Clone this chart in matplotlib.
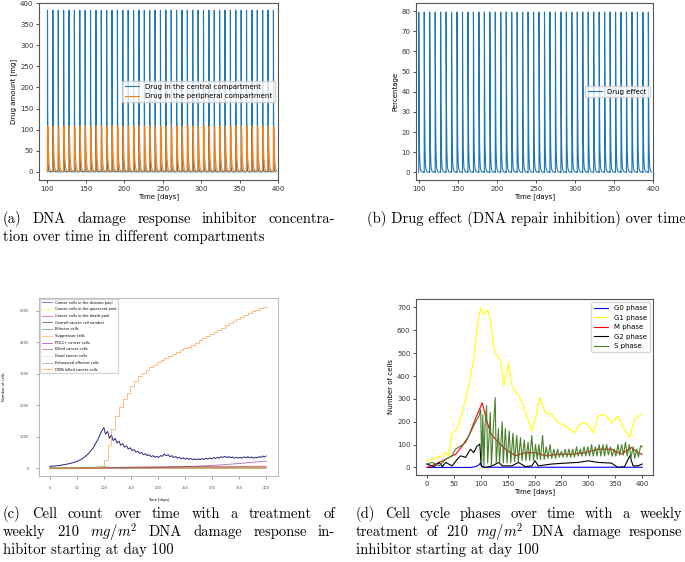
import matplotlib
matplotlib.use("Agg")
import matplotlib.pyplot as plt
import numpy as np

W, H = 685, 562

# ---------------- data ----------------
# weekly dosing days (panels a, b)
dose_days = [100, 107, 114, 121, 128, 135, 142, 149, 156, 163, 170, 177, 184, 191, 198,
             205, 212, 219, 226, 233, 240, 247, 254, 261, 268, 275, 282, 289, 296, 303,
             310, 317, 324, 331, 338, 345, 352, 359, 366, 373, 380, 387, 394]

# one-week profiles after a dose (days after dose, value)
central_t = [0, 0.05, 0.3, 0.6, 1.0, 1.6, 3.0, 7.0]
central_v = [0.5, 383, 150, 40, 10, 2, 0.5, 0.2]
peripheral_t = [0, 0.25, 0.5, 0.8, 1.2, 1.7, 2.5, 3.5, 5.0, 7.0]
peripheral_v = [1, 75, 108, 90, 55, 30, 12, 5, 2, 1]
effect_t = [0, 0.05, 0.3, 0.6, 1.0, 1.5, 2.0, 3.0, 4.0, 7.0]
effect_v = [0, 79.5, 55, 30, 12, 5, 2.0, 0.6, 0.2, 0.1]

# panel c
overall_days = [0, 10, 20, 30, 40, 50, 60, 70, 80, 90, 95, 100,
                103, 107, 110, 114, 117, 121, 124, 128, 131, 135, 138, 142, 145, 149, 152, 156,
                159, 163, 166, 170, 173, 177, 180, 184, 187, 191, 194, 198, 201, 205, 208, 212,
                215, 219, 222, 226, 229, 233, 236, 240, 243, 247, 250, 254, 257, 261, 264, 268,
                271, 275, 278, 282, 285, 289, 292, 296, 299, 303, 306, 310, 313, 317, 320, 324,
                327, 331, 334, 338, 341, 345, 348, 352, 355, 359, 362, 366, 369, 373, 376, 380,
                383, 387, 390, 394, 397, 400]
overall_cells = [60, 75, 95, 125, 165, 215, 300, 440, 640, 950, 1150, 1290,
                 1080, 1170, 950, 1060, 880, 950, 800, 860, 730, 780, 670, 710, 610, 650, 560, 590,
                 510, 540, 470, 500, 430, 460, 400, 430, 370, 400, 350, 380, 340, 400, 380, 450,
                 400, 430, 370, 400, 340, 370, 320, 350, 300, 330, 290, 320, 280, 310, 270, 300,
                 270, 300, 270, 310, 280, 320, 290, 330, 300, 340, 310, 350, 320, 370, 340, 380,
                 340, 370, 330, 360, 320, 350, 320, 350, 320, 360, 330, 370, 330, 360, 320, 350,
                 330, 370, 340, 390, 360, 390]
division_pool = overall_cells
ddri_days = [0, 100, 107, 114, 121, 128, 135, 142, 149, 156, 163, 170, 177, 184, 191, 198,
             205, 212, 219, 226, 233, 240, 247, 254, 261, 268, 275, 282, 289, 296, 303,
             310, 317, 324, 331, 338, 345, 352, 359, 366, 373, 380, 387, 394, 400]
ddri_killed = [0, 250, 750, 1250, 1650, 1950, 2200, 2400, 2600, 2780, 2920, 3030, 3120, 3200,
               3280, 3360, 3430, 3500, 3560, 3620, 3680, 3740, 3800, 3860, 3920, 3980, 4060,
               4130, 4200, 4260, 4330, 4400, 4460, 4530, 4600, 4670, 4740, 4800, 4860, 4920,
               4980, 5030, 5080, 5130, 5150]
coarse_days = [0, 50, 90, 100, 110, 150, 200, 250, 300, 350, 400]
quiescent_pool = [5, 8, 15, 20, 10, 8, 8, 8, 8, 8, 8]
death_pool = [2, 4, 10, 15, 20, 25, 30, 35, 35, 40, 40]
effector_cells = [10, 15, 40, 50, 30, 15, 10, 10, 10, 10, 10]
suppressor_cells = [5, 5, 5, 5, 5, 5, 5, 5, 5, 5, 5]
pdl1_cells = [0, 0, 0, 0, 2, 8, 20, 50, 90, 150, 230]
killed_cells = [0, 2, 5, 10, 20, 40, 50, 55, 60, 60, 65]
dead_cells = [0, 1, 2, 3, 4, 5, 6, 6, 6, 6, 6]
exhausted_cells = [0, 0, 1, 2, 3, 5, 5, 5, 5, 5, 5]

# panel d
g0_days = [0, 80, 90, 96, 100, 102, 104, 400]
g0_phase = [0, 0, 3, 10, 20, 5, 1, 1]
g1_days = [0, 10.5, 29, 35, 41, 47, 53.5, 60, 69, 78, 87, 93.5, 100, 106, 112, 118, 124, 130,
           137, 143, 152, 158, 167, 177, 186, 195, 204, 210, 220, 232, 244, 257, 275, 284, 294,
           303, 309, 318, 330, 343, 355, 367, 377, 386, 398]
g1_phase = [29, 36, 51, 65, 51, 152, 160, 189, 269, 356, 472, 617, 697, 668, 690, 654, 530, 487,
            472, 356, 458, 356, 327, 283, 225, 160, 240, 305, 240, 232, 196, 182, 152, 189, 196,
            174, 152, 225, 232, 196, 225, 167, 131, 211, 232]
m_days = [0, 17, 35, 53.5, 66, 78, 90, 103, 109, 118, 130, 146, 164, 183, 201, 220, 244, 269,
          294, 318, 343, 361, 380, 392, 400]
m_phase = [0, 15, 36, 58, 94, 138, 211, 283, 225, 152, 116, 80, 51, 65, 65, 51, 58, 58,
           65, 80, 80, 58, 87, 65, 58]
g2_days = [0, 13.5, 23, 29, 35, 47, 56.6, 63, 72, 81, 87, 93.5, 98.5, 101, 109, 121, 134, 140,
           158, 170, 183, 195, 201, 207, 232, 257, 281, 300, 318, 343, 355, 367, 377, 383, 392, 400]
g2_phase = [15, 4, 22, 4, 22, 7, 36, 51, 44, 80, 65, 94, 102, 7, 0, 7, 22, 7,
            7, 22, 4, 7, 29, 7, 15, 19, 22, 29, 22, 19, 0, 3, 51, 7, 7, 15]
s_days = [0, 10, 23, 35, 47, 53, 63, 72, 81, 90, 97, 100,
          102, 104, 106, 108, 111, 113, 116, 118, 120, 123, 127, 129, 133, 135, 138, 140, 142,
          146, 149, 153, 156, 160, 163, 167, 170, 174, 177, 181, 184, 188, 191, 195, 198, 202,
          205, 208, 211, 215, 218, 222, 225, 229, 232, 236, 239, 243, 246, 250, 253, 257, 260,
          264, 267, 271, 274, 278, 281, 285, 288, 292, 295, 299, 302, 306, 309, 313, 316, 320,
          323, 327, 330, 334, 337, 341, 344, 348, 351, 355, 358, 362, 365, 369, 372, 376, 379,
          383, 386, 390, 393, 397, 400]
s_phase = [15, 22, 7, 36, 51, 80, 94, 109, 152, 196, 225, 254,
           20, 230, 10, 180, 270, 20, 150, 240, 10, 150, 305, 20, 170, 20, 120, 200, 20,
           170, 20, 160, 20, 150, 25, 140, 25, 130, 30, 120, 30, 110, 30, 140, 30, 100,
           35, 100, 35, 140, 35, 90, 40, 100, 40, 80, 40, 80, 45, 70, 45, 80, 45,
           80, 45, 80, 45, 90, 50, 80, 50, 90, 50, 90, 50, 100, 50, 90, 50, 100,
           50, 100, 50, 100, 55, 90, 50, 80, 50, 100, 55, 100, 55, 110, 50, 100, 40,
           90, 40, 80, 45, 95, 90]


def repeat_profile(prof_t, prof_v, end=400):
    ts, vs = [], []
    for i, d in enumerate(dose_days):
        nxt = dose_days[i + 1] if i + 1 < len(dose_days) else end
        for t, v in zip(prof_t, prof_v):
            if d + t <= nxt:
                ts.append(d + t)
                vs.append(v)
    return ts, vs


def px_axes(left, top, right, bottom):
    return fig.add_axes([left / W, 1 - bottom / H, (right - left) / W, (bottom - top) / H])


def style_spines(ax, color):
    for s in ax.spines.values():
        s.set_color(color)
        s.set_linewidth(0.8)


fig = plt.figure(figsize=(W / 100, H / 100), dpi=100)

# ---------------- (a) ----------------
ax = px_axes(39, 3, 278, 180)
t, v = repeat_profile(central_t, central_v)
ax.plot(t, v, color='#1f77b4', lw=0.8, label='Drug in the central compartment')
t, v = repeat_profile(peripheral_t, peripheral_v)
ax.plot(t, v, color='#ff7f0e', lw=0.8, label='Drug in the peripheral compartment')
ax.set_xlim(89, 400)
ax.set_ylim(-19, 400)
ax.set_xticks([100, 150, 200, 250, 300, 350, 400])
ax.tick_params(labelsize=5, length=2.5, width=0.6, pad=1.5, colors='#333333')
ax.set_xlabel('Time [days]', fontsize=5, labelpad=1.5)
ax.set_ylabel('Drug amount [mg]', fontsize=5, labelpad=2)
ax.legend(loc='center right', fontsize=5, framealpha=0.8, borderpad=0.4, handlelength=2)
style_spines(ax, '#555555')

# ---------------- (b) ----------------
ax = px_axes(416, 3, 653, 180)
t, v = repeat_profile(effect_t, effect_v)
ax.plot(t, v, color='#1f77b4', lw=0.8, label='Drug effect')
ax.set_xlim(96.5, 400)
ax.set_ylim(-3.8, 84)
ax.set_xticks([100, 150, 200, 250, 300, 350, 400])
ax.set_yticks(range(0, 81, 10))
ax.tick_params(labelsize=5, length=2.5, width=0.6, pad=1.5, colors='#333333')
ax.set_xlabel('Time [days]', fontsize=5, labelpad=1.5)
ax.set_ylabel('Percentage', fontsize=5, labelpad=2)
ax.legend(loc='center right', fontsize=5, framealpha=0.8, borderpad=0.4, handlelength=2)
style_spines(ax, '#555555')

# ---------------- (c) ----------------
ax = px_axes(39, 298, 278, 476)
a = 0.6
ax.plot(overall_days, division_pool, color='blue', alpha=a, lw=0.6, label='Cancer cells in the division pool')
ax.plot(coarse_days, quiescent_pool, color='yellow', alpha=a, lw=0.6, label='Cancer cells in the quiescent pool')
ax.plot(coarse_days, death_pool, color='red', alpha=a, lw=0.6, label='Cancer cells in the death pool')
ax.plot(overall_days, overall_cells, color='black', alpha=a, lw=0.6, label='Overall cancer cell number')
ax.plot(coarse_days, effector_cells, color='green', alpha=a, lw=0.6, label='Effector cells')
ax.plot(coarse_days, suppressor_cells, color='orange', alpha=a, lw=0.6, label='Suppressor cells')
ax.plot(coarse_days, pdl1_cells, color='purple', alpha=a, lw=0.6, label='PDL1+ cancer cells')
ax.plot(coarse_days, killed_cells, color='brown', alpha=a, lw=0.6, label='Killed cancer cells')
ax.plot(coarse_days, dead_cells, color='pink', alpha=a, lw=0.6, label='Dead cancer cells')
ax.plot(coarse_days, exhausted_cells, color='gray', alpha=a, lw=0.6, label='Exhausted effector cells')
ax.plot(ddri_days, ddri_killed, color='#ff7f0e', alpha=a, lw=0.6, drawstyle='steps-post',
        label='DDRi killed cancer cells')
ax.set_xlim(-20, 422)
ax.set_ylim(-245, 5400)
ax.set_xticks(range(0, 401, 50))
ax.set_yticks(range(0, 5001, 1000))
ax.tick_params(labelsize=2.6, length=2, width=0.4, pad=5, colors='#555555')
ax.set_xlabel('Time [days]', fontsize=2.6, labelpad=6)
ax.set_ylabel('Number of cells', fontsize=2.6, labelpad=10)
ax.legend(loc='upper left', fontsize=2.6, framealpha=0.8, borderpad=0.5, labelspacing=0.75,
          handlelength=3, borderaxespad=0.2)
style_spines(ax, '#bbbbbb')

# ---------------- (d) ----------------
ax = px_axes(416, 299, 653, 475)
ax.plot(g0_days, g0_phase, color='blue', lw=0.8, label='G0 phase')
ax.plot(g1_days, g1_phase, color='yellow', lw=0.8, label='G1 phase')
ax.plot(m_days, m_phase, color='red', lw=0.8, label='M phase')
ax.plot(g2_days, g2_phase, color='black', lw=0.8, label='G2 phase')
ax.plot(s_days, s_phase, color='#48802a', lw=0.8, label='S phase')
ax.set_xlim(-20, 420)
ax.set_ylim(-33, 737)
ax.set_xticks(range(0, 401, 50))
ax.set_yticks(range(0, 701, 100))
ax.tick_params(labelsize=5, length=2.5, width=0.6, pad=1.5, colors='#333333')
ax.set_xlabel('Time [days]', fontsize=5, labelpad=1.5)
ax.set_ylabel('Number of cells', fontsize=5, labelpad=2)
ax.legend(loc='upper right', fontsize=5, framealpha=0.8, borderpad=0.4, handlelength=2)
style_spines(ax, '#555555')

# ---------------- captions ----------------
cap_kw = dict(family='cmr10', fontsize=10.5, color='black', va='center')
plt.rcParams['mathtext.fontset'] = 'cm'
renderer = fig.canvas.get_renderer()


def caption_line(text, x0, y, x1=None):
    if x1 is None:
        fig.text(x0 / W, 1 - y / H, text, ha='left', **cap_kw)
        return
    words = text.split(' ')
    arts = [fig.text(0, 1 - y / H, w_, ha='left', **cap_kw) for w_ in words]
    widths = [ar.get_window_extent(renderer).width for ar in arts]
    gap = (x1 - x0 - sum(widths)) / (len(words) - 1)
    x = x0
    for ar, wd in zip(arts, widths):
        ar.set_x(x / W)
        x += wd + gap


caption_line('(a) DNA damage response inhibitor concentra-', 3, 219, 335)
caption_line('tion over time in different compartments', 3, 237)
caption_line('(b) Drug effect (DNA repair inhibition) over time', 367, 219)
caption_line('(c) Cell count over time with a treatment of', 3, 514, 335)
caption_line('weekly 210 $mg/m^2$ DNA damage response in-', 3, 532, 335)
caption_line('hibitor starting at day 100', 3, 550)
caption_line('(d) Cell cycle phases over time with a weekly', 356, 514, 682)
caption_line('treatment of 210 $mg/m^2$ DNA damage response', 356, 532, 682)
caption_line('inhibitor starting at day 100', 356, 550)

fig.savefig('out.png', dpi=100)
